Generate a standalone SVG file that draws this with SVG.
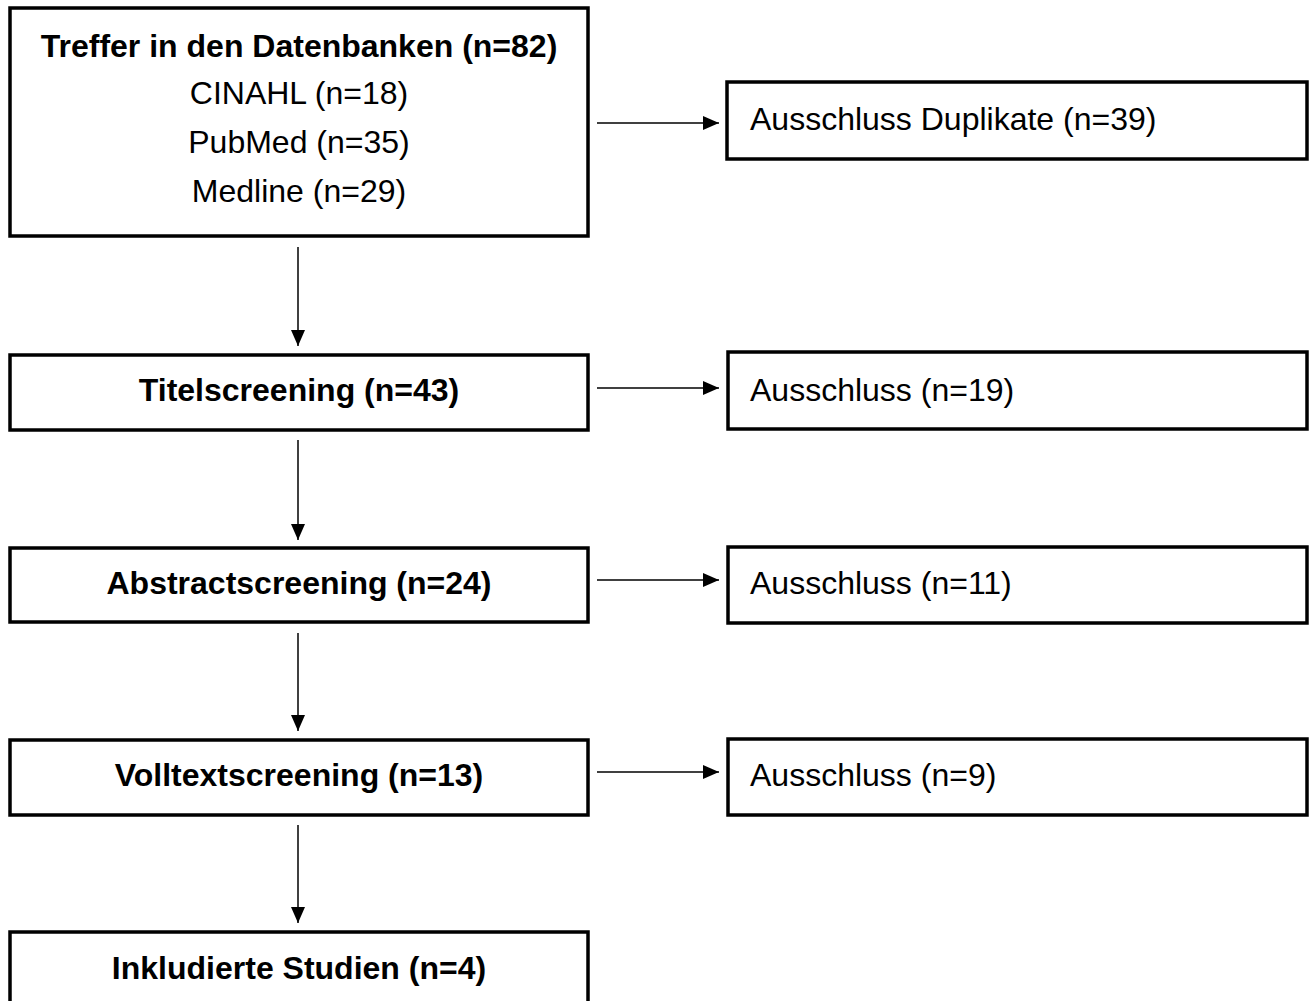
<svg xmlns="http://www.w3.org/2000/svg" width="1312" height="1001" viewBox="0 0 1312 1001">
<defs>
<marker id="ahv" viewBox="0 0 16 14" refX="16" refY="7" markerWidth="16" markerHeight="14" markerUnits="userSpaceOnUse" orient="auto">
<path d="M0,0 L16,7 L0,14 Z" fill="#000"/>
</marker>
</defs>
<style>
.box{fill:#fff;stroke:#000;stroke-width:3.5}
.t{font-family:"Liberation Sans",Arial,sans-serif;font-size:32px;fill:#000}
.b{font-weight:bold}
.c{text-anchor:middle}
.conn{stroke:#000;stroke-width:1.5;fill:none;marker-end:url(#ahv)}
</style>
<rect width="1312" height="1001" fill="#fff"/>
<g id="n1">
<rect class="box" x="10" y="8" width="578" height="228"/>
<text class="t b c" x="299" y="57">Treffer in den Datenbanken (n=82)</text>
<text class="t c" x="299" y="104">CINAHL (n=18)</text>
<text class="t c" x="299" y="153">PubMed (n=35)</text>
<text class="t c" x="299" y="202">Medline (n=29)</text>
</g>
<g id="e1">
<rect class="box" x="727" y="82" width="580" height="77"/>
<text class="t" x="750" y="130">Ausschluss Duplikate (n=39)</text>
</g>
<g id="n2">
<rect class="box" x="10" y="355" width="578" height="75"/>
<text class="t b c" x="299" y="401">Titelscreening (n=43)</text>
</g>
<g id="e2">
<rect class="box" x="728" y="352" width="579" height="77"/>
<text class="t" x="750" y="401">Ausschluss (n=19)</text>
</g>
<g id="n3">
<rect class="box" x="10" y="548" width="578" height="74"/>
<text class="t b c" x="299" y="594">Abstractscreening (n=24)</text>
</g>
<g id="e3">
<rect class="box" x="728" y="547" width="579" height="76"/>
<text class="t" x="750" y="594">Ausschluss (n=11)</text>
</g>
<g id="n4">
<rect class="box" x="10" y="740" width="578" height="75"/>
<text class="t b c" x="299" y="786">Volltextscreening (n=13)</text>
</g>
<g id="e4">
<rect class="box" x="728" y="739" width="579" height="76"/>
<text class="t" x="750" y="786">Ausschluss (n=9)</text>
</g>
<g id="n5">
<rect class="box" x="10" y="932" width="578" height="80"/>
<text class="t b c" x="299" y="979">Inkludierte Studien (n=4)</text>
</g>
<g id="connectors">
<line class="conn" x1="597" y1="123" x2="719" y2="123"/>
<line class="conn" x1="597" y1="388" x2="719" y2="388"/>
<line class="conn" x1="597" y1="580" x2="719" y2="580"/>
<line class="conn" x1="597" y1="772" x2="719" y2="772"/>
<line class="conn" x1="298" y1="247" x2="298" y2="346"/>
<line class="conn" x1="298" y1="440" x2="298" y2="540"/>
<line class="conn" x1="298" y1="633" x2="298" y2="731"/>
<line class="conn" x1="298" y1="825" x2="298" y2="923"/>
</g>
</svg>
